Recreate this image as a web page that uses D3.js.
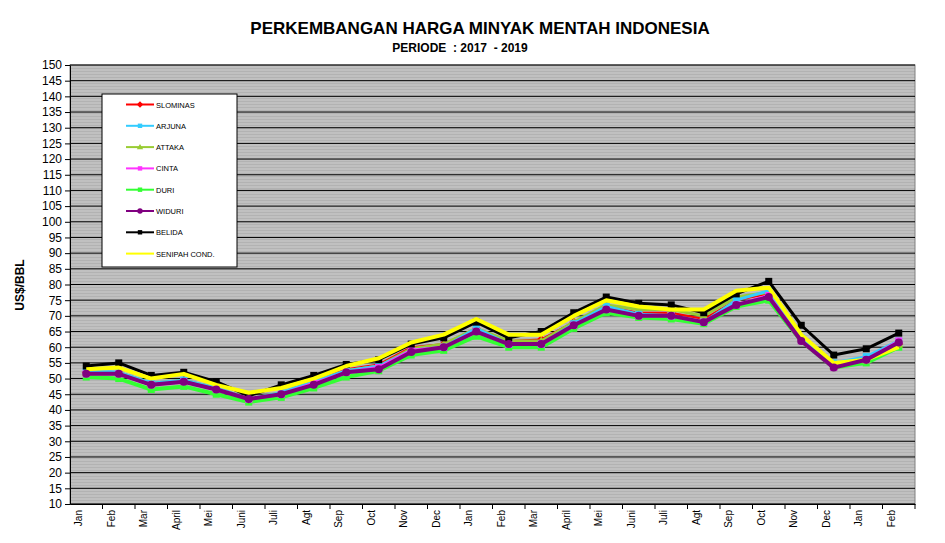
<!DOCTYPE html>
<html><head><meta charset="utf-8">
<script src="https://cdn.jsdelivr.net/npm/d3@7"></script>
<style>body{margin:0;background:#fff}svg{font-family:Arial,"Liberation Sans",sans-serif}</style>
</head><body><svg id="c" width="945" height="543"></svg>
<script>
const months = ['Jan','Feb','Mar','April','Mei','Juni','Juli','Agt','Sep','Oct','Nov','Dec','Jan','Feb','Mar','April','Mei','Juni','Juli','Agt','Sep','Oct','Nov','Dec','Jan','Feb']
const sliminas = [52,52,48.5,49.5,47,43.5,45.5,49,53,54.5,60,61,66,62,62.5,68,73,71,71,69,75,77,63,54,56,61]
const arjuna = [52.5,52,48.5,49.5,47,43.5,45.5,49,52.5,54,59,60,66,61,61,67.5,73,70.5,70,68,75,78,63,55,57,62]
const attaka = [52,52,48.5,49.5,47,43.5,45.5,49,52.5,54,59.5,61,66,62,62,68,73.5,72,72,70,76,77.5,63,54,56,61]
const cinta = [51.5,51.5,48,49,46.5,43.5,45,48.5,52,53.5,59,60,65,61,61,67,72,70,70,68,73.5,76.5,62,53.5,56,62]
const duri = [50.5,50,46.5,47.5,45,42.5,44,47,50.5,52.5,57.5,59,63.5,60,60,66,71,69.5,69,67.5,73,75,62,53.5,55,60]
const widuri = [51.5,51.5,48,49,46.5,43.5,45,48,52,53,58.5,60,65,61,61,67,72,70,70,68,73.5,76,62,53.5,56,61.5]
const belida = [54,55,51,52,49,44.5,48,51,54.5,56,61,63,68,63,65,71,76,74,73.5,71,77,81,67,57.5,59.5,64.5]
const senipah = [53,53.5,50,51.5,48,45.5,47,50,54,56.5,61.5,64,69,64,64,70,75,73,72,72,78,79,64,55,56,60]

const series = [
  {name:'SLOMINAS', values:sliminas, color:'#ff0000', marker:'diamond', w:2},
  {name:'ARJUNA', values:arjuna, color:'#33ccff', marker:'square', w:3},
  {name:'ATTAKA', values:attaka, color:'#99cc33', marker:'triangle', w:3},
  {name:'CINTA', values:cinta, color:'#ff33ff', marker:'square', w:3},
  {name:'DURI', values:duri, color:'#33ff33', marker:'square', w:4},
  {name:'WIDURI', values:widuri, color:'#800080', marker:'circle', w:4},
  {name:'BELIDA', values:belida, color:'#000000', marker:'square', w:3},
  {name:'SENIPAH COND.', values:senipah, color:'#ffff00', marker:null, w:4}
]
const drawOrder = ['DURI','SLOMINAS','ATTAKA','ARJUNA','CINTA','BELIDA','SENIPAH COND.','WIDURI']

const svg = d3.select('#c')
const m = {left:70, right:915, top:65, bottom:504}
const x = d3.scaleBand().domain(d3.range(months.length)).range([m.left, m.right])
const y = d3.scaleLinear().domain([10,150]).range([m.bottom, m.top])

const defs = svg.append('defs')
const pat = defs.append('pattern').attr('id','stripes').attr('width',4).attr('height',3).attr('patternUnits','userSpaceOnUse')
pat.append('rect').attr('width',4).attr('height',3).attr('fill','#c0c0c0')
pat.append('rect').attr('y',2).attr('width',4).attr('height',1).attr('fill','#b2b2b2')

svg.append('rect').attr('x',m.left).attr('y',m.top).attr('width',m.right-m.left).attr('height',m.bottom-m.top)
  .attr('fill','url(#stripes)').attr('stroke','#808080')

// grid
const ticks = d3.range(10,151,5)
svg.selectAll('.grid').data(ticks).enter().append('line')
  .attr('x1',m.left).attr('x2',m.right).attr('y1',d=>y(d)).attr('y2',d=>y(d))
  .attr('stroke','#000').attr('stroke-width',1)

// y axis
const ya = svg.append('g').attr('transform',`translate(${m.left},0)`)
  .call(d3.axisLeft(y).tickValues(ticks).tickSize(5).tickSizeOuter(0))
ya.selectAll('text').attr('font-size','12px').attr('fill','#000').attr('font-family','Arial')
ya.select('.domain').attr('stroke','#000')

// x axis
const xa = svg.append('g').attr('transform',`translate(0,${m.bottom})`)
  .call(d3.axisBottom(x).tickFormat(i=>months[i]).tickSize(5).tickSizeOuter(0))
xa.selectAll('.tick line').attr('transform',`translate(${x.bandwidth()/2},0)`)
xa.selectAll('text').attr('font-size','10px').attr('fill','#000')
  .attr('transform','rotate(-90)').attr('text-anchor','end').attr('dx','-0.6em').attr('dy','-0.4em').attr('x',0).attr('y',0)
xa.select('.domain').attr('stroke','#000')

const cx = i => x(i) + x.bandwidth()/2
const line = d3.line().x((d,i)=>cx(i)).y(d=>y(d))

function marker(g, type, px, py, color, s) {
  if (!type) return
  if (type==='square') g.append('rect').attr('x',px-s).attr('y',py-s).attr('width',2*s).attr('height',2*s).attr('fill',color)
  else if (type==='circle') g.append('circle').attr('cx',px).attr('cy',py).attr('r',s+0.5).attr('fill',color)
  else if (type==='diamond') g.append('path').attr('d',`M${px},${py-s-1}L${px+s+1},${py}L${px},${py+s+1}L${px-s-1},${py}Z`).attr('fill',color)
  else if (type==='triangle') g.append('path').attr('d',`M${px},${py-s-1}L${px+s+1},${py+s}L${px-s-1},${py+s}Z`).attr('fill',color)
}

drawOrder.forEach(n => {
  const s = series.find(d=>d.name===n)
  const g = svg.append('g')
  g.append('path').attr('d',line(s.values)).attr('fill','none').attr('stroke',s.color).attr('stroke-width',s.w).attr('stroke-linejoin','round')
  s.values.forEach((v,i)=>marker(g,s.marker,cx(i),y(v),s.color,3.5))
})

// legend
const lg = svg.append('g')
lg.append('rect').attr('x',102).attr('y',94).attr('width',135).attr('height',173).attr('fill','#fff').attr('stroke','#000')
series.forEach((s,i) => {
  const ly = 104.5 + i*21.3
  lg.append('line').attr('x1',126).attr('x2',154).attr('y1',ly).attr('y2',ly).attr('stroke',s.color).attr('stroke-width',2)
  marker(lg,s.marker,140,ly,s.color,2.2)
  lg.append('text').attr('x',156).attr('y',ly+3).attr('font-size','7.5px').text(s.name)
})

// titles
svg.append('text').attr('x',480).attr('y',34).attr('text-anchor','middle').attr('font-size','17px').attr('font-weight','bold').text('PERKEMBANGAN HARGA  MINYAK MENTAH INDONESIA')
svg.append('text').attr('x',460).attr('y',52).attr('text-anchor','middle').attr('font-size','12px').attr('font-weight','bold').attr('xml:space','preserve').text('PERIODE  : 2017  - 2019')
svg.append('text').attr('transform','translate(24,285) rotate(-90)').attr('text-anchor','middle').attr('font-size','12px').attr('font-weight','bold').text('US$/BBL')
</script></body></html>
